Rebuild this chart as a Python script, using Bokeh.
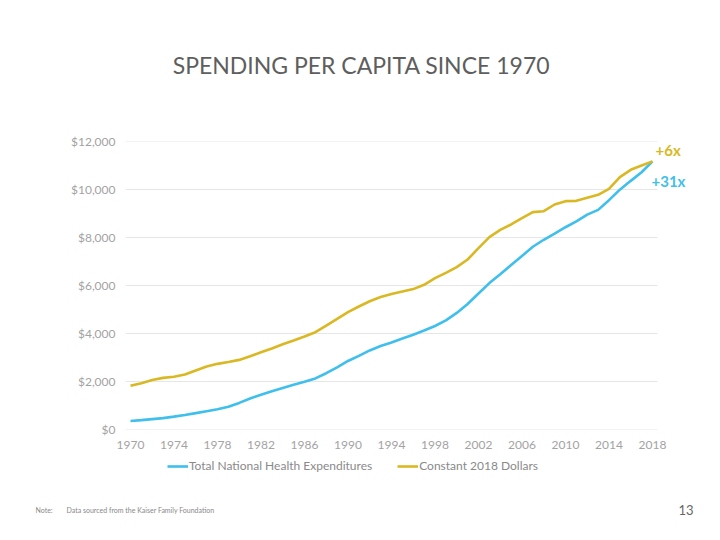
from bokeh.plotting import figure
from bokeh.layouts import column, row
from bokeh.models import (ColumnDataSource, Range1d, NumeralTickFormatter, FixedTicker,
                          Label, Legend, LegendItem)
from bokeh.embed import file_html
from bokeh.resources import INLINE

years = list(range(1970, 2019))
total_nhe = [355, 392, 434, 474, 535, 604, 682, 763, 842, 944,
             1108, 1294, 1447, 1589, 1726, 1862, 1987, 2128, 2345, 2589,
             2855, 3067, 3295, 3478, 3624, 3792, 3948, 4124, 4313, 4545,
             4857, 5231, 5667, 6101, 6469, 6852, 7233, 7615, 7905, 8162,
             8428, 8668, 8953, 9152, 9555, 9994, 10360, 10720, 11172]
constant_2018 = [1820, 1930, 2060, 2150, 2200, 2290, 2460, 2625, 2735, 2810,
                 2900, 3055, 3220, 3375, 3555, 3710, 3875, 4055, 4330, 4610,
                 4890, 5125, 5345, 5520, 5650, 5750, 5850, 6028, 6305, 6528,
                 6764, 7083, 7555, 8014, 8320, 8542, 8806, 9056, 9097, 9375,
                 9514, 9528, 9653, 9778, 10028, 10514, 10820, 11000, 11172]
year_ticks = list(range(1970, 2019, 4))
value_ticks = list(range(0, 12001, 2000))
series_names = ["Total National Health Expenditures", "Constant 2018 Dollars"]
growth_labels = ["+31x", "+6x"]
title_text = "SPENDING PER CAPITA SINCE 1970"
note_label = "Note:"
note_text = "Data sourced from the Kaiser Family Foundation"
page_number = "13"

BLUE = "#3FBFEB"
GOLD = "#DAB823"
FONT = "Lato"
PAD = 0.46


def blank(height):
    fig = figure(width=704, height=height, output_backend="svg", toolbar_location=None,
                 x_range=Range1d(0, 704), y_range=Range1d(0, height),
                 x_axis_type=None, y_axis_type=None, min_border=0,
                 min_border_left=0, min_border_right=0, min_border_top=0,
                 min_border_bottom=0)
    fig.outline_line_color = None
    fig.xgrid.grid_line_color = None
    fig.ygrid.grid_line_color = None
    return fig


# header: title
h = blank(100)
h.add_layout(Label(x=361, y=36, text=title_text, text_align="center",
                   text_baseline="middle", text_color="#5e5e5e",
                   text_font=FONT, text_font_size="23px"))

src = ColumnDataSource(dict(year=years, nhe=total_nhe, const=constant_2018))

p = figure(width=704, height=352, output_backend="svg", toolbar_location=None,
           x_range=Range1d(years[0] - PAD, 2021.68), y_range=Range1d(0, 12000),
           min_border_left=125, min_border_right=12, min_border_top=41,
           min_border_bottom=23)
p.outline_line_color = None

# horizontal gridlines spanning the data extent only
p.segment(x0=[years[0] - PAD] * len(value_ticks), x1=[years[-1] + PAD] * len(value_ticks),
          y0=value_ticks, y1=value_ticks, line_color="#e6e6e6", line_width=1)

r1 = p.line("year", "nhe", source=src, line_color=BLUE, line_width=2.6)
r2 = p.line("year", "const", source=src, line_color=GOLD, line_width=2.6)

p.xaxis.ticker = FixedTicker(ticks=year_ticks)
p.yaxis.ticker = FixedTicker(ticks=value_ticks)
p.yaxis.formatter = NumeralTickFormatter(format="$0,0")
for ax in (p.xaxis[0], p.yaxis[0]):
    ax.axis_line_color = None
    ax.major_tick_line_color = None
    ax.minor_tick_line_color = None
    ax.major_label_text_color = "#a3a3a3"
    ax.major_label_text_font = FONT
    ax.major_label_text_font_size = "12px"
p.yaxis.major_label_standoff = 4
p.xaxis.major_label_standoff = 5
p.xgrid.grid_line_color = None
p.ygrid.grid_line_color = None

p.add_layout(Label(x=years[-1], y=constant_2018[-1], text=growth_labels[1],
                   x_offset=3, y_offset=11, text_baseline="middle",
                   text_color=GOLD, text_font=FONT,
                   text_font_style="bold", text_font_size="15px"))
p.add_layout(Label(x=years[-1], y=total_nhe[-1], text=growth_labels[0],
                   x_offset=-1, y_offset=-20, text_baseline="middle",
                   text_color=BLUE, text_font=FONT,
                   text_font_style="bold", text_font_size="15px"))

# footer: legend, note and page number
f = blank(84)
nan = float("nan")
empty = ColumnDataSource(dict(x=[nan], y=[nan]))
d1 = f.line("x", "y", source=empty, line_color=BLUE, line_width=2.6)
d2 = f.line("x", "y", source=empty, line_color=GOLD, line_width=2.6)
legend = Legend(items=[LegendItem(label=series_names[0], renderers=[d1]),
                       LegendItem(label=series_names[1], renderers=[d2])],
                orientation="horizontal", location=(167, 63),
                label_text_font=FONT, label_text_font_size="12px",
                label_text_color="#8a8a8a", glyph_width=21, glyph_height=12,
                label_standoff=1, spacing=25, padding=0, margin=0,
                border_line_color=None, background_fill_alpha=0)
f.add_layout(legend)
f.add_layout(Label(x=35, y=27, text=note_label, text_baseline="middle",
                   text_color="#888888", text_font=FONT, text_font_size="7px"))
f.add_layout(Label(x=66, y=27, text=note_text, text_baseline="middle",
                   text_color="#888888", text_font=FONT, text_font_size="7px"))
f.add_layout(Label(x=693, y=27, text=page_number, text_align="right",
                   text_baseline="middle", text_color="#666666",
                   text_font=FONT, text_font_size="13px"))

layout = column(row(h), p, row(f), spacing=0)
open("out.html", "w").write(file_html(layout, INLINE))
